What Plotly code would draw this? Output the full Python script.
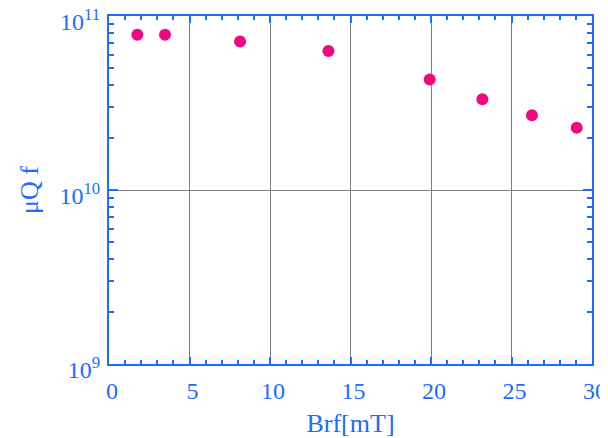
import plotly.graph_objects as go

brf = [1.76, 3.48, 8.14, 13.63, 19.92, 23.19, 26.27, 29.05]
qf = [7.81e10, 7.81e10, 7.14e10, 6.29e10, 4.32e10, 3.32e10, 2.69e10, 2.28e10]

x_ticks = [0, 5, 10, 15, 20, 25, 30]
y_ticks = [1e9, 1e10, 1e11]
y_ticktext = ["10<sup>9</sup>", "10<sup>10</sup>", "10<sup>11</sup>"]

blue = "#1c6cff"
font = "Liberation Serif"

fig = go.Figure(go.Scatter(
    x=brf, y=qf, mode="markers",
    marker=dict(color="#ee0a7e", size=12, line=dict(width=0)),
    showlegend=False,
))

# page body has an 8px margin, so the figure is sized/offset to compensate
fig.update_layout(
    width=600, height=430,
    margin=dict(l=101, r=16, t=8, b=74),
    paper_bgcolor="white", plot_bgcolor="white",
    font=dict(family=font, color=blue, size=24),
    xaxis=dict(
        range=[0, 30], tickvals=x_ticks, showgrid=True, gridcolor="#7f7f7f", gridwidth=1,
        zeroline=False, showline=True, linecolor=blue, linewidth=2, mirror="ticks",
        ticks="inside", ticklen=7, tickcolor=blue, tickwidth=1.5,
        minor=dict(ticks="inside", dtick=1, ticklen=4, tickcolor=blue, tickwidth=1.5, showgrid=False),
        tickfont=dict(size=24, family=font, color=blue),
        ticklabelshift=3, ticklabelstandoff=4, automargin=False, ticklabeloverflow="allow",
        title=dict(text="Brf[mT]", font=dict(size=26, family=font, color=blue), standoff=11),
    ),
    yaxis=dict(
        type="log", range=[9, 11], tickvals=y_ticks, ticktext=y_ticktext,
        showgrid=True, gridcolor="#7f7f7f", gridwidth=1,
        zeroline=False, showline=True, linecolor=blue, linewidth=2, mirror="ticks",
        ticks="inside", ticklen=9, tickcolor=blue, tickwidth=1.5,
        minor=dict(ticks="inside", dtick="D1", ticklen=5, tickcolor=blue, tickwidth=1.5, showgrid=False),
        tickfont=dict(size=24, family=font, color=blue),
        ticklabelshift=6, ticklabelstandoff=2, automargin=False, ticklabeloverflow="allow",
        title=dict(text="μQ f", font=dict(size=26, family=font, color=blue), standoff=13),
    ),
)

fig.write_html("out.html")
